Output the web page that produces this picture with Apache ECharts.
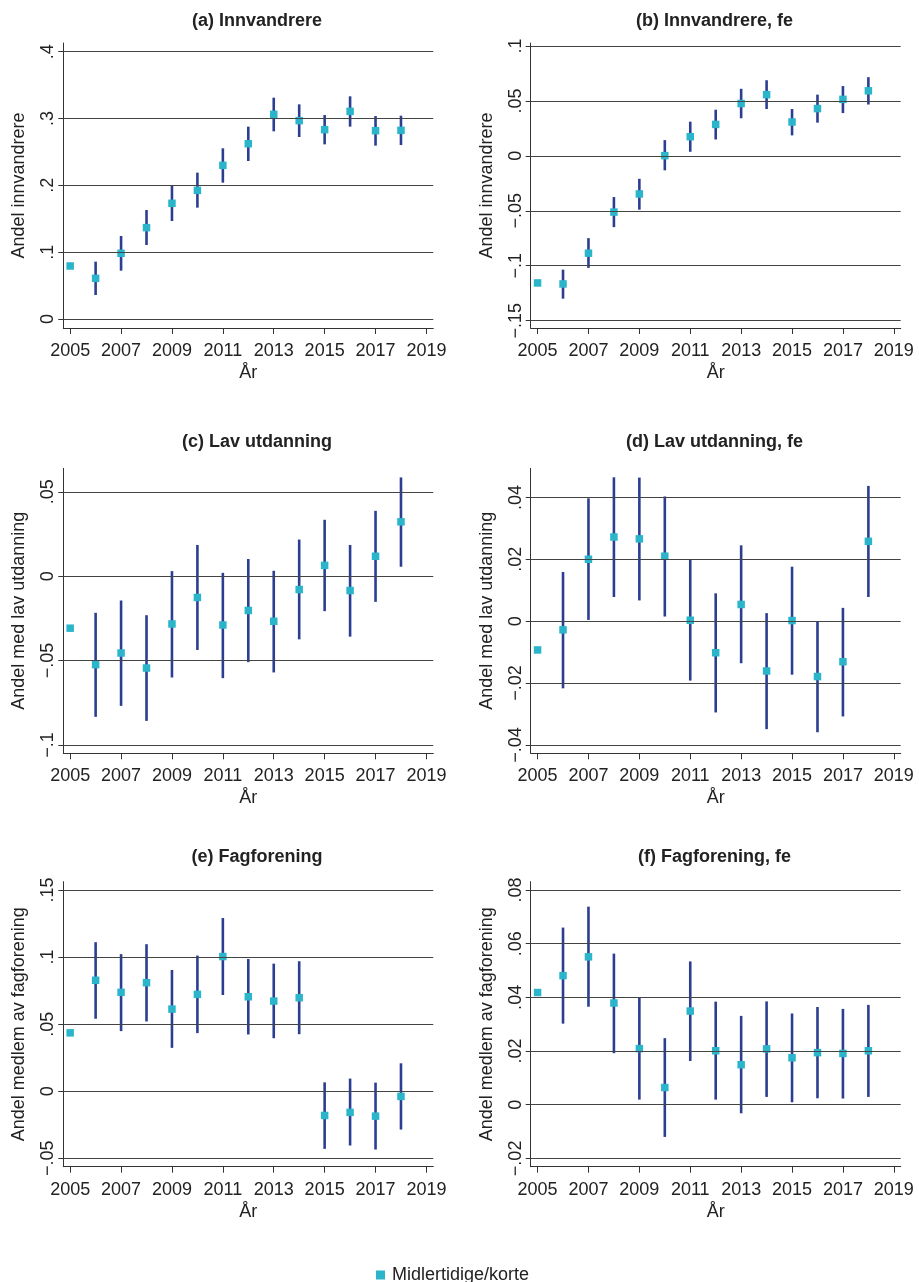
<!DOCTYPE html>
<html>
<head>
<meta charset="utf-8">
<script src="https://cdn.jsdelivr.net/npm/echarts@6/dist/echarts.min.js"></script>
<style>
  html, body { margin: 0; padding: 0; background: #fff; }
  #chart { width: 919px; height: 1282px; }
</style>
</head>
<body>
<div id="chart"></div>
<script>
// Year-by-year estimates with 95% confidence bounds (2005 is the reference year, no interval)
const years = [2005, 2006, 2007, 2008, 2009, 2010, 2011, 2012, 2013, 2014, 2015, 2016, 2017, 2018];
const xTicks = [2005, 2007, 2009, 2011, 2013, 2015, 2017, 2019];

// (a) Innvandrere
const estA = [0.0793, 0.0608, 0.0983, 0.1367, 0.1731, 0.1925, 0.2299, 0.2623, 0.3062, 0.2968, 0.2833, 0.3107, 0.2818, 0.2823];
const hiA  = [null, 0.0858, 0.1242, 0.1631, 0.1995, 0.2190, 0.2554, 0.2878, 0.3312, 0.3212, 0.3052, 0.3332, 0.3037, 0.3042];
const loA  = [null, 0.0359, 0.0723, 0.1107, 0.1466, 0.1666, 0.2040, 0.2364, 0.2808, 0.2723, 0.2613, 0.2878, 0.2594, 0.2603];
const yTicksA = [0, 0.1, 0.2, 0.3, 0.4];

// (b) Innvandrere, fe
const estB = [-0.1157, -0.1166, -0.0886, -0.0512, -0.0347, 0.0002, 0.0174, 0.0286, 0.0476, 0.0557, 0.0308, 0.0430, 0.0514, 0.0592];
const hiB  = [null, -0.1036, -0.0749, -0.0375, -0.0209, 0.0143, 0.0311, 0.0420, 0.0610, 0.0688, 0.0426, 0.0557, 0.0635, 0.0716];
const loB  = [null, -0.1300, -0.1020, -0.0649, -0.0490, -0.0132, 0.0037, 0.0149, 0.0342, 0.0426, 0.0186, 0.0302, 0.0389, 0.0467];
const yTicksB = [-0.15, -0.1, -0.05, 0, 0.05, 0.1];

// (c) Lav utdanning
const estC = [-0.0308, -0.0524, -0.0455, -0.0544, -0.0283, -0.0126, -0.0289, -0.0203, -0.0267, -0.0079, 0.0064, -0.0085, 0.0118, 0.0322];
const hiC  = [null, -0.0217, -0.0144, -0.0231, 0.0030, 0.0185, 0.0020, 0.0102, 0.0032, 0.0217, 0.0334, 0.0185, 0.0387, 0.0585];
const loC  = [null, -0.0833, -0.0768, -0.0857, -0.0600, -0.0437, -0.0604, -0.0509, -0.0570, -0.0374, -0.0207, -0.0358, -0.0152, 0.0056];
const yTicksC = [-0.1, -0.05, 0, 0.05];

// (d) Lav utdanning, fe
const estD = [-0.0093, -0.0028, 0.0200, 0.0272, 0.0266, 0.0210, 0.0003, -0.0102, 0.0054, -0.0161, 0.0002, -0.0179, -0.0131, 0.0258];
const hiD  = [null, 0.0159, 0.0397, 0.0465, 0.0464, 0.0403, 0.0199, 0.0090, 0.0245, 0.0026, 0.0176, -0.0001, 0.0043, 0.0437];
const loD  = [null, -0.0217, 0.0004, 0.0078, 0.0067, 0.0015, -0.0192, -0.0295, -0.0136, -0.0349, -0.0173, -0.0359, -0.0308, 0.0078];
const yTicksD = [-0.04, -0.02, 0, 0.02, 0.04];

// (e) Fagforening
const estE = [0.0435, 0.0827, 0.0737, 0.0809, 0.0612, 0.0722, 0.1004, 0.0704, 0.0672, 0.0697, -0.0181, -0.0158, -0.0186, -0.0039];
const hiE  = [null, 0.1111, 0.1022, 0.1096, 0.0904, 0.1011, 0.1291, 0.0986, 0.0951, 0.0969, 0.0066, 0.0094, 0.0064, 0.0208];
const loE  = [null, 0.0540, 0.0448, 0.0520, 0.0323, 0.0433, 0.0717, 0.0423, 0.0395, 0.0425, -0.0430, -0.0405, -0.0435, -0.0286];
const yTicksE = [-0.05, 0, 0.05, 0.1, 0.15];

// (f) Fagforening, fe
const estF = [0.0418, 0.0481, 0.0551, 0.0379, 0.0209, 0.0064, 0.0349, 0.0201, 0.0149, 0.0208, 0.0175, 0.0194, 0.0191, 0.0201];
const hiF  = [null, 0.0660, 0.0738, 0.0563, 0.0399, 0.0248, 0.0534, 0.0384, 0.0331, 0.0385, 0.0340, 0.0364, 0.0357, 0.0372];
const loF  = [null, 0.0302, 0.0365, 0.0192, 0.0019, -0.0120, 0.0163, 0.0019, -0.0032, 0.0029, 0.0009, 0.0024, 0.0023, 0.0029];
const yTicksF = [-0.02, 0, 0.02, 0.04, 0.06, 0.08];

const panelTitles = ['(a) Innvandrere', '(b) Innvandrere, fe', '(c) Lav utdanning', '(d) Lav utdanning, fe', '(e) Fagforening', '(f) Fagforening, fe'];
const yAxisTitles = ['Andel innvandrere', 'Andel innvandrere', 'Andel med lav utdanning', 'Andel med lav utdanning', 'Andel medlem av fagforening', 'Andel medlem av fagforening'];
const seriesName = 'Midlertidige/korte';

const panels = [
  { est: estA, hi: hiA, lo: loA, ticks: yTicksA, yMin: -0.0135, yMax: 0.413 },
  { est: estB, hi: hiB, lo: loB, ticks: yTicksB, yMin: -0.1567, yMax: 0.1027 },
  { est: estC, hi: hiC, lo: loC, ticks: yTicksC, yMin: -0.1049, yMax: 0.0639 },
  { est: estD, hi: hiD, lo: loD, ticks: yTicksD, yMin: -0.0427, yMax: 0.0494 },
  { est: estE, hi: hiE, lo: loE, ticks: yTicksE, yMin: -0.0563, yMax: 0.1562 },
  { est: estF, hi: hiF, lo: loF, ticks: yTicksF, yMin: -0.0231, yMax: 0.0831 }
];

// Layout of the 2x3 panel grid
const colLeft = [63.3, 530.7];
const plotW = 370;
const rowTop = [43, 468.3, 881.7];
const plotH = 285;
const titleX = [252, 709.5];
const titleY = [7, 428, 843];

const FONT = 'Liberation Sans, Arial, Helvetica, sans-serif';
const TEXT = '#222';
const AXIS = '#333';
const MARKER = '#2BB5CB';
const BAR = '#2B3E91';

// Stata-style tick labels: ".4", "−.05", "0"
function fmt(v) {
  if (v === 0) return '0';
  const s = String(Math.abs(Number(v.toFixed(4)))).replace(/^0/, '');
  return (v < 0 ? '\u2212' : '') + s;
}

const grids = [], xAxes = [], yAxes = [], series = [], titles = [];

panels.forEach((p, i) => {
  const col = i % 2, row = Math.floor(i / 2);
  grids.push({ left: colLeft[col], top: rowTop[row], width: plotW, height: plotH, containLabel: false });
  titles.push({
    text: panelTitles[i], left: titleX[col], top: titleY[row], textAlign: 'center',
    textStyle: { fontFamily: FONT, fontSize: 18, fontWeight: 'bold', color: TEXT }
  });
  xAxes.push({
    type: 'value', gridIndex: i, min: 2004.73, max: 2019.27,
    name: 'År', nameLocation: 'middle', nameGap: 36,
    nameTextStyle: { fontFamily: FONT, fontSize: 18, color: TEXT },
    axisLine: { show: true, onZero: false, lineStyle: { color: AXIS, width: 1 } },
    axisTick: { show: true, length: 6, customValues: xTicks, lineStyle: { color: AXIS } },
    axisLabel: { customValues: xTicks, margin: 14, fontFamily: FONT, fontSize: 18, color: TEXT, formatter: v => String(v) },
    splitLine: { show: false }
  });
  yAxes.push({
    type: 'value', gridIndex: i, min: p.yMin, max: p.yMax,
    name: yAxisTitles[i], nameLocation: 'middle', nameGap: 35,
    nameTextStyle: { fontFamily: FONT, fontSize: 18, color: TEXT },
    axisLine: { show: true, onZero: false, lineStyle: { color: AXIS, width: 1 } },
    axisTick: { show: true, length: 5, customValues: p.ticks, lineStyle: { color: AXIS } },
    axisLabel: { customValues: p.ticks, rotate: 90, margin: 6, fontFamily: FONT, fontSize: 18, color: TEXT, formatter: fmt },
    splitLine: { show: false }
  });

  // Confidence intervals as vertical segments
  const ciData = years.map((y, k) => [y, p.lo[k], p.hi[k]]).filter(d => d[1] !== null);
  series.push({
    type: 'custom', xAxisIndex: i, yAxisIndex: i, silent: true,
    data: ciData,
    encode: { x: 0, y: [1, 2] },
    renderItem: (params, api) => {
      const a = api.coord([api.value(0), api.value(1)]);
      const b = api.coord([api.value(0), api.value(2)]);
      return { type: 'line', shape: { x1: a[0], y1: a[1], x2: b[0], y2: b[1] }, style: { stroke: BAR, lineWidth: 2.6 } };
    },
    // Horizontal gridlines at the labelled ticks
    markLine: {
      silent: true, symbol: 'none', label: { show: false },
      lineStyle: { color: '#444', width: 1, type: 'solid' },
      data: p.ticks.map(t => ({ yAxis: t }))
    },
    z: 2
  });

  // Point estimates
  series.push({
    type: 'scatter', name: seriesName, xAxisIndex: i, yAxisIndex: i, silent: true,
    symbol: 'rect', symbolSize: 7.5,
    itemStyle: { color: MARKER, opacity: 1 },
    data: years.map((y, k) => [y, p.est[k]]),
    z: 3
  });
});

const chart = echarts.init(document.getElementById('chart'), null, { renderer: 'canvas' });
chart.setOption({
  animation: false,
  backgroundColor: '#fff',
  textStyle: { fontFamily: FONT },
  title: titles,
  grid: grids,
  xAxis: xAxes,
  yAxis: yAxes,
  series: series,
  legend: {
    data: [{ name: seriesName, icon: 'rect' }],
    left: 371, top: 1261,
    itemWidth: 9, itemHeight: 9, itemGap: 10,
    textStyle: { fontFamily: FONT, fontSize: 18, color: TEXT, padding: [0, 0, 0, 2] },
    selectedMode: false
  }
});
</script>
</body>
</html>
